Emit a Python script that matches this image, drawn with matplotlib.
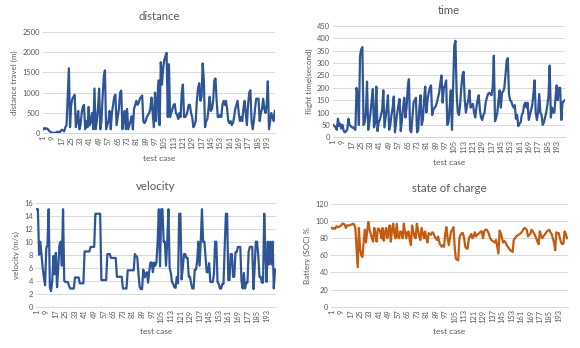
import matplotlib
matplotlib.use("Agg")
import matplotlib.pyplot as plt
import numpy as np

plt.rcParams['font.family'] = ['Lato', 'DejaVu Sans']

distance = [
    100,130,110,120,100,60,40,20,10,15,
    10,20,40,30,20,60,90,70,50,150,
    200,900,1600,150,700,850,900,950,150,300,
    550,100,200,500,650,700,100,300,150,650,
    200,300,500,100,1100,100,300,600,1100,100,
    300,900,1400,1550,100,200,300,550,100,500,
    700,900,950,200,400,600,1000,1050,100,300,
    550,100,600,100,200,300,420,100,600,700,
    800,700,750,850,900,930,300,250,300,400,
    450,500,600,880,500,150,1000,300,800,1300,
    200,1750,1200,1600,1800,1900,1980,400,1700,400,
    500,600,700,720,500,450,350,500,400,1000,
    1200,400,400,450,550,700,700,500,400,150,
    200,300,800,1100,1230,800,900,1720,1300,150,
    300,350,600,900,550,600,800,1300,1350,800,
    400,400,450,400,700,800,700,800,600,300,
    250,300,200,250,400,600,700,800,500,300,
    400,300,600,800,500,200,700,1000,1060,300,
    100,300,600,850,850,850,300,500,600,850,
    600,500,700,1280,100,300,500,400,300,550,
]

flight_time = [
    50,45,40,30,75,45,55,35,50,25,
    20,25,30,75,50,45,40,40,35,30,
    200,170,50,330,355,365,50,60,100,225,
    30,60,100,150,195,40,60,205,25,60,
    70,90,110,190,40,80,120,170,30,50,
    90,120,165,20,60,100,130,155,25,70,
    120,160,80,120,200,235,30,20,80,140,
    150,160,20,30,120,170,50,70,150,205,
    100,150,180,200,210,90,110,120,125,140,
    160,180,220,250,140,200,210,230,50,60,
    120,190,30,200,370,390,180,100,90,130,
    200,250,265,150,100,130,150,190,120,130,
    135,100,80,120,150,170,110,80,70,90,
    100,140,160,175,180,175,170,200,330,65,
    80,100,150,190,120,180,185,200,250,310,
    320,175,150,145,130,120,130,75,90,45,
    55,60,90,100,130,140,120,140,70,90,
    110,130,175,230,100,70,100,175,100,90,
    50,60,80,100,130,170,290,80,120,100,
    100,160,210,150,200,200,70,140,145,150,
]

velocity = [
    15,15,8,10,8,6,4.5,3.3,9,9.5,
    15,3,2.4,4,7.8,5,8.3,3,6,9.5,
    10,6.3,15,4,3.8,3.8,3.8,3.2,2.8,2.8,
    2.8,2.8,4.5,4.5,4.5,4.5,3.6,3.6,3.6,3.6,
    8.5,8.5,8.5,8.5,8.5,9.2,9.2,9.2,9.2,14.3,
    14.3,14.3,14.3,14.3,4.1,4.1,4.1,4.1,4.1,8.1,
    8.1,8.1,7.5,7.5,7.5,7.5,7.5,4.6,4.6,4.6,
    4.6,4.6,2.8,2.8,2.8,2.8,5.6,5.6,5.6,5.6,
    5.6,5.6,8.1,7.8,7.6,5,3,2.7,2.7,5.7,
    4.5,5.0,5.3,3.7,5.5,6.8,6.8,5.3,6.8,6.3,
    6.8,10,15,6.2,15,15,10,10,6.3,10,
    15,6,5.2,3.8,3.5,3,2.9,4.6,3.6,14.3,
    14.3,4.2,6,8.1,8.1,7.5,7.5,4.6,4.6,3.5,
    2.8,2.8,5.7,5.7,7,10,6.3,10,15,10,
    10,7.6,5.3,5.3,6.7,3.8,3.8,3.8,5,10,
    10,3.8,3.5,2.8,2.8,3.5,3.5,9.2,14.3,14.3,
    4.1,4.1,8.1,8.1,4.6,4.6,8.4,8.4,9.2,9.2,
    9.2,4,2.8,5.2,2.8,3.7,3.7,8.5,9.2,9.2,
    9.2,2.7,6,10,10,8,4.6,4.6,3.7,3.7,
    14.3,8,3.8,10,6.5,10,6.5,10,2.8,5.7,
]

soc = [
    92,91,92,91,94,93,93,94,95,97,
    97,96,92,95,95,95,96,96,97,96,
    92,70,46,92,68,60,58,75,90,75,
    88,99,90,85,80,76,92,85,76,91,
    91,88,80,92,77,86,92,80,88,95,
    76,90,97,85,80,97,82,80,88,87,
    80,97,88,80,87,88,78,72,95,88,
    82,80,97,90,82,78,92,86,80,88,
    80,75,86,85,84,87,86,82,80,78,
    82,75,72,70,72,70,85,93,80,72,
    80,88,90,93,70,56,55,54,80,84,
    86,86,80,70,68,68,80,82,85,80,
    82,87,82,84,85,86,88,88,80,88,
    90,90,88,85,80,78,77,76,75,78,
    70,62,89,86,80,75,77,75,72,70,
    68,66,65,64,78,80,82,83,84,85,
    86,88,90,92,91,90,82,84,85,90,
    88,86,83,80,76,73,88,84,80,82,
    84,86,88,89,90,87,85,80,75,66,
    87,86,86,80,75,73,74,88,85,80,
]

test_case = list(range(1, len(distance) + 1))
tick_cases = list(range(1, 194, 8))

BLUE = "#2F5597"
ORANGE = "#C55A11"
TXT = "#595959"
GRID = "#D9D9D9"

W, H = 580, 348
fig = plt.figure(figsize=(W / 100, H / 100), dpi=100)

panels = [
    (distance, "distance", "distance travel (m)", 2500, 500, BLUE, (42.7, 275.4, 31.7, 133.3), 16),
    (flight_time, "time", "flight time(second)", 450, 50, BLUE, (332.7, 565.4, 26.0, 137.3), 10),
    (velocity, "velocity", "velocity (m/s)", 16, 2, BLUE, (36.1, 275.6, 202.7, 306.7), 187),
    (soc, "state of charge", "Battery (SOC) %", 120, 20, ORANGE, (331.1, 567.6, 204.0, 306.7), 188),
]

for data, title, ylabel, ymax, ystep, color, (l, r, t, b), ty in panels:
    ax = fig.add_axes([l / W, 1 - b / H, (r - l) / W, (b - t) / H])
    ax.plot(test_case, data, color=color, lw=1.6, solid_joinstyle="round")
    ax.set_xlim(0.5, len(data) + 0.5)
    ax.set_ylim(0, ymax)
    ax.set_yticks(np.arange(0, ymax + ystep / 2, ystep))
    ax.set_xticks(tick_cases)
    ax.set_xticklabels([str(c) for c in tick_cases], rotation=90)
    ax.tick_params(axis="both", length=0, labelsize=5.4, colors=TXT, pad=2)
    ax.grid(axis="y", color=GRID, lw=0.7)
    ax.set_axisbelow(True)
    for s in ["top", "right", "left"]:
        ax.spines[s].set_visible(False)
    ax.spines["bottom"].set_color(GRID)
    ax.spines["bottom"].set_linewidth(0.7)
    ax.set_ylabel(ylabel, fontsize=5.8, color=TXT, labelpad=3)
    ax.set_xlabel("test case", fontsize=6, color=TXT, labelpad=4)
    cx = (l + r) / 2
    fig.text(cx / W, 1 - ty / H, title, ha="center", va="center", fontsize=8.2, color=TXT)

fig.savefig("out.png", dpi=100)
